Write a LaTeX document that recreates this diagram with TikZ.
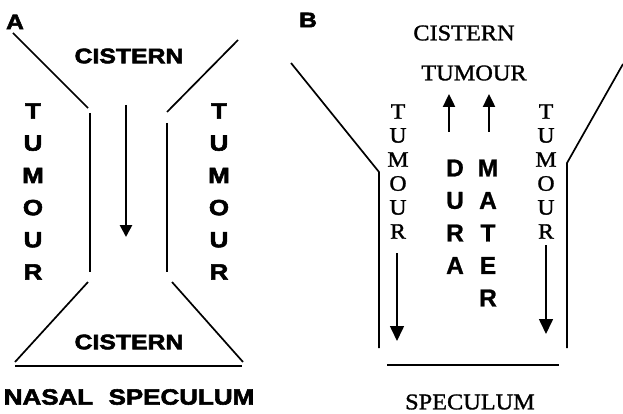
\documentclass[tikz,border=0pt]{standalone}
\usepackage{fontspec}
\newfontfamily\widesans[FakeStretch=1.18, FakeBold=2.6]{Liberation Sans Bold}
\newfontfamily\durasans[FakeBold=1.0]{Liberation Sans Bold}
\newfontfamily\timesfont[FakeStretch=1.08, FakeBold=1.3]{Liberation Serif}
\usetikzlibrary{arrows.meta}
\begin{document}
\begin{tikzpicture}[x=1pt,y=-1pt,
  wall/.style={line width=1.7pt},
  heavylab/.style={inner sep=0pt, font=\widesans\fontsize{21}{21}\selectfont},
  letterlab/.style={inner sep=0pt, font=\widesans\fontsize{22}{22}\selectfont},
  durlab/.style={inner sep=0pt, font=\durasans\fontsize{24.5}{24.5}\selectfont},
  serlab/.style={inner sep=0pt, font=\timesfont\fontsize{22.5}{22.5}\selectfont},
  serletter/.style={inner sep=0pt, font=\timesfont\fontsize{22}{22}\selectfont}]
\useasboundingbox (0,0) rectangle (623,414);
\node[heavylab] (pa) at (15,22) {A};
\node[heavylab] (pb) at (308,20) {B};
\node[heavylab] (cistop) at (129,56) {CISTERN};
\node[heavylab] (cisbot) at (129,342) {CISTERN};
\node[heavylab, font=\widesans\fontsize{22}{22}\selectfont] (nasal) at (129,397) {NASAL\hspace{0.7em}SPECULUM};
\foreach \l [count=\i] in {T,U,M,O,U,R} {
  \node[letterlab] (tla\i) at (33,{111+32.2*(\i-1)}) {\l};
  \node[letterlab] (tra\i) at (219,{111+32.2*(\i-1)}) {\l};
  \node[serletter] (tlb\i) at (398,{111.5+24*(\i-1)}) {\l};
  \node[serletter] (trb\i) at (546,{111.5+24*(\i-1)}) {\l};
}
\foreach \l [count=\i] in {D,U,R,A}
  \node[durlab] (dura\i) at (455,{168+32.5*(\i-1)}) {\l};
\foreach \l [count=\i] in {M,A,T,E,R}
  \node[durlab] (mater\i) at (488,{168+32.5*(\i-1)}) {\l};
\node[serlab] (cisb) at (464,33) {CISTERN};
\node[serlab] (tumb) at (474,73) {TUMOUR};
\node[serlab] (specb) at (470,402) {SPECULUM};
\coordinate (a1) at (13,33);
\coordinate (a2) at (88,108);
\coordinate (a3) at (238,40);
\coordinate (a4) at (167,112);
\coordinate (a5) at (90,113);
\coordinate (a6) at (90,272);
\coordinate (a7) at (167,123);
\coordinate (a8) at (167,272);
\coordinate (a9) at (88,282);
\coordinate (a10) at (15,362);
\coordinate (a11) at (172,282);
\coordinate (a12) at (243,362);
\coordinate (a13) at (15,366);
\coordinate (a14) at (242,366);
\coordinate (b1) at (291,63);
\coordinate (b2) at (379,172);
\coordinate (b3) at (379,348);
\coordinate (b4) at (623,64);
\coordinate (b5) at (567,163);
\coordinate (b6) at (567,348);
\coordinate (b7) at (387,365);
\coordinate (b8) at (559,365);
\draw[wall] (a1) -- (a2);
\draw[wall] (a3) -- (a4);
\draw[wall] (a5) -- (a6);
\draw[wall] (a7) -- (a8);
\draw[wall] (a9) -- (a10);
\draw[wall] (a11) -- (a12);
\draw[wall] (a13) -- (a14);
\draw[wall] (b1) -- (b2) -- (b3);
\draw[wall] (b4) -- (b5) -- (b6);
\draw[wall] (b7) -- (b8);
\coordinate (ar1) at (126,105);
\coordinate (ar2) at (126,237);
\draw[line width=2.6pt, -{Triangle[length=12pt,width=12pt]}] (ar1) -- (ar2);
\coordinate (up1) at (449,132);
\coordinate (up2) at (449,94);
\coordinate (up3) at (489,132);
\coordinate (up4) at (489,94);
\draw[line width=2.4pt, -{Triangle[length=13pt,width=12pt]}] (up1) -- (up2);
\draw[line width=2.4pt, -{Triangle[length=13pt,width=12pt]}] (up3) -- (up4);
\coordinate (dn1) at (397,253);
\coordinate (dn2) at (397,341);
\coordinate (dn3) at (546,245);
\coordinate (dn4) at (546,334);
\draw[line width=1.6pt, -{Triangle[length=15pt,width=14pt]}] (dn1) -- (dn2);
\draw[line width=1.6pt, -{Triangle[length=15pt,width=14pt]}] (dn3) -- (dn4);
\end{tikzpicture}
\end{document}
